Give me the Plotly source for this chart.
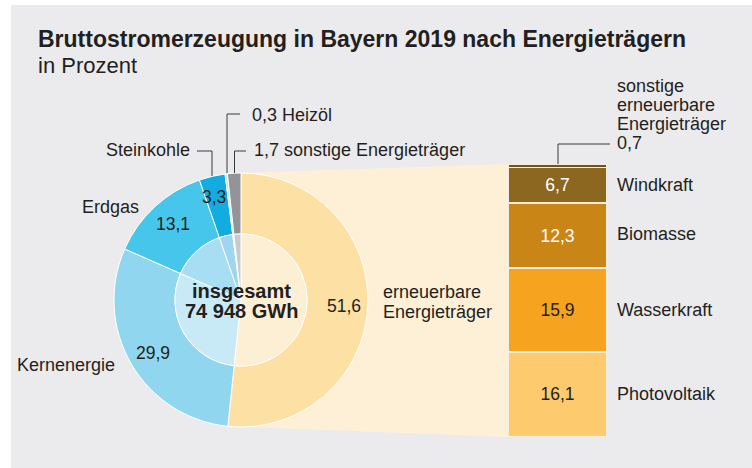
import math
import plotly.graph_objects as go

# ---------------- data ----------------
carriers = ["erneuerbare Energieträger", "Kernenergie", "Erdgas", "Steinkohle", "Heizöl", "sonstige Energieträger"]
carrier_shares = [51.6, 29.9, 13.1, 3.3, 0.3, 1.7]
renew_sources = ["Photovoltaik", "Wasserkraft", "Biomasse", "Windkraft", "sonstige erneuerbare Energieträger"]
renew_shares = [16.1, 15.9, 12.3, 6.7, 0.7]
total_label = ["insgesamt", "74 948 GWh"]
title_text = "Bruttostromerzeugung in Bayern 2019 nach Energieträgern"
subtitle_text = "in Prozent"

# ---------------- styling ----------------
W, H = 752, 468
FONT = "Liberation Sans, Arial, Helvetica, sans-serif"
DARK = "#231f20"
BG = "#ebebed"
CREAM = "#fdf0d6"
outer_colors = ["#fde0a4", "#8fd6ee", "#46c6ea", "#12ace0", "#bfe3f3", "#939498"]
inner_colors = ["#fdefd3", "#c8e9f6", "#a8def3", "#9fd5ef", "#d8eef8", "#c9cacd"]
bar_colors = ["#fdca6e", "#f6a41f", "#c98617", "#8c6720", "#6e5322"]
bar_text_colors = [DARK, DARK, "white", "white", "white"]

CX, CY, R_OUT, R_IN = 241, 300, 127, 66
BAR_L, BAR_R, BAR_T, BAR_B = 508, 607, 164, 437


def px(x):
    return x / W


def py(y):
    return 1 - y / H


def fmt(v):
    return f"{v:.1f}".replace(".", ",")


fig = go.Figure()

# outer ring
fig.add_trace(go.Pie(
    labels=carriers, values=carrier_shares, sort=False, direction="clockwise", rotation=0,
    hole=R_IN / R_OUT, textinfo="none", hoverinfo="label+value",
    marker=dict(colors=outer_colors, line=dict(color="white", width=1)),
    domain=dict(x=[px(CX - R_OUT), px(CX + R_OUT)], y=[py(CY + R_OUT), py(CY - R_OUT)]),
    showlegend=False,
))
# inner disc (lighter tints)
fig.add_trace(go.Pie(
    labels=carriers, values=carrier_shares, sort=False, direction="clockwise", rotation=0,
    textinfo="none", hoverinfo="label+value",
    marker=dict(colors=inner_colors, line=dict(color="white", width=1)),
    domain=dict(x=[px(CX - R_IN), px(CX + R_IN)], y=[py(CY + R_IN), py(CY - R_IN)]),
    showlegend=False,
))

# stacked bar of renewables
for name, val, col, tcol in zip(renew_sources, renew_shares, bar_colors, bar_text_colors):
    fig.add_trace(go.Bar(
        x=[0], y=[val], name=name, width=[1],
        marker=dict(color=col, line=dict(color="#f6eddc", width=1.2)),
        text=[fmt(val) if val >= 5 else ""], textposition="inside",
        insidetextanchor="middle", textangle=0,
        textfont=dict(size=17.5, color=tcol, family=FONT),
        constraintext="none", cliponaxis=False,
        showlegend=False, hoverinfo="name+y",
    ))

fig.update_layout(
    barmode="stack",
    xaxis=dict(domain=[px(BAR_L), px(BAR_R)], range=[-0.5, 0.5], visible=False, fixedrange=True),
    yaxis=dict(domain=[py(BAR_B), py(BAR_T)], range=[0, sum(renew_shares)], visible=False, fixedrange=True),
)

# ---------------- shapes ----------------
shapes = []
shapes.append(dict(type="rect", xref="paper", yref="paper", x0=px(11), x1=px(W), y0=py(H), y1=py(5),
                   fillcolor=BG, line=dict(width=0), layer="below"))
# connector wedge between pie and bar
end_ang = math.radians(360 * carrier_shares[0] / sum(carrier_shares))
bx, by = CX + R_OUT * math.sin(end_ang), CY - R_OUT * math.cos(end_ang)
path = (f"M {px(CX)} {py(CY - R_OUT)} L {px(BAR_L)} {py(BAR_T)} L {px(BAR_L)} {py(BAR_B)} "
        f"L {px(bx)} {py(by)} L {px(CX)} {py(CY)} Z")
shapes.append(dict(type="path", xref="paper", yref="paper", path=path, fillcolor=CREAM,
                   line=dict(width=0), layer="below"))


def leader(points):
    d = "M " + " L ".join(f"{px(x)} {py(y)}" for x, y in points)
    return dict(type="path", xref="paper", yref="paper", path=d,
                line=dict(color="#3a3a3a", width=1), layer="above")


shapes.append(leader([(197, 151), (212, 151), (212, 176)]))   # Steinkohle
shapes.append(leader([(240, 114), (227, 114), (227, 173)]))   # Heizöl
shapes.append(leader([(246, 151), (234.5, 151), (234.5, 173)]))  # sonstige
shapes.append(leader([(610, 144), (558, 144), (558, 164)]))   # sonstige erneuerbare

# ---------------- texts ----------------
ann = []


def txt(x, y, s, size=18, anchor="left", color=DARK, bold=False):
    ann.append(dict(x=px(x), y=py(y), xref="paper", yref="paper", text=f"<b>{s}</b>" if bold else s,
                    showarrow=False, xanchor=anchor, yanchor="middle",
                    font=dict(size=size, color=color, family=FONT)))


txt(36, 39, title_text, size=23, bold=True)
txt(36, 66, subtitle_text, size=22)

# pie labels
txt(250, 115, f"{fmt(carrier_shares[4])} Heizöl", size=18)
txt(252, 150.5, f"{fmt(carrier_shares[5])} sonstige Energieträger", size=18)
txt(192, 150.5, carriers[3], size=18, anchor="right")
txt(80, 207, carriers[2], size=18)
txt(15, 365, carriers[1], size=18)
txt(214, 197, fmt(carrier_shares[3]), size=17.5, anchor="center")
txt(172.5, 224, fmt(carrier_shares[2]), size=17.5, anchor="center")
txt(152.5, 353, fmt(carrier_shares[1]), size=17.5, anchor="center")
txt(344, 306, fmt(carrier_shares[0]), size=17.5, anchor="center")
txt(241, 291, total_label[0], size=20, anchor="center", bold=True)
txt(241, 311, total_label[1], size=20, anchor="center", bold=True)
txt(381, 292, "erneuerbare", size=18)
txt(381, 311.5, "Energieträger", size=18)

# bar labels
bar_label_y = [394, 310, 234, 185]
for name, yy in zip(renew_sources[:4], bar_label_y):
    txt(615, yy, name, size=18)
for i, line in enumerate(["sonstige", "erneuerbare", "Energieträger", fmt(renew_shares[4])]):
    txt(615, 86 + i * 19, line, size=18)

fig.update_layout(
    width=W, height=H, margin=dict(l=0, r=0, t=0, b=0),
    paper_bgcolor="white", plot_bgcolor="rgba(0,0,0,0)",
    shapes=shapes, annotations=ann, showlegend=False,
    font=dict(family=FONT, color=DARK),
)

fig.write_html("out.html", config={"displayModeBar": False},
               post_script="document.body.style.margin='0';document.body.style.overflow='hidden';")
